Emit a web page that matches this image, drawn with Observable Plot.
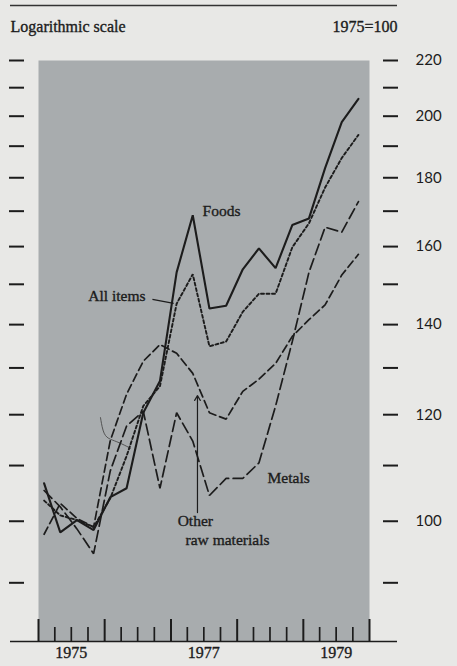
<!DOCTYPE html>
<html><head><meta charset="utf-8">
<script src="https://cdn.jsdelivr.net/npm/d3@7"></script>
<script src="https://cdn.jsdelivr.net/npm/@observablehq/plot@0.6"></script>
<style>
html,body{margin:0;padding:0;background:#e8e8e6;}
#chart{width:457px;height:666px;}
</style></head><body><div id="chart"></div>
<script>
// Quarterly index values, 1975 = 100 (logarithmic scale)
const quarters = ["1975Q1","1975Q2","1975Q3","1975Q4","1976Q1","1976Q2","1976Q3","1976Q4",
  "1977Q1","1977Q2","1977Q3","1977Q4","1978Q1","1978Q2","1978Q3","1978Q4",
  "1979Q1","1979Q2","1979Q3","1979Q4"];
const foods    = [106.7, 98.1,100.2, 98.5,104.2,105.8,120.4,127.1,153.1,168.8,143.9,144.6,153.9,159.5,154.2,166.0,167.9,183.0,198.0,206.0];
const allItems = [103.6,101.0,100.2, 99.0,104.0,111.8,121.8,126.0,145.1,152.6,134.9,136.0,143.1,147.6,147.6,159.8,166.5,177.0,186.2,193.7];
const otherRaw = [ 97.8,103.1,100.5, 99.0,114.8,124.3,131.5,135.3,133.3,128.8,120.4,119.1,124.9,127.5,131.0,137.2,141.2,144.8,152.4,157.9];
const metals   = [105.4,102.5, 98.7, 94.6,109.0,117.7,120.7,105.8,120.4,114.7,104.5,107.6,107.6,110.5,121.8,136.0,153.1,165.4,164.0,172.8];

const yTicks = [90,100,110,120,130,140,150,160,170,180,190,200,210,220];
const yLabels = [100,120,140,160,180,200,220];
const tickYears = [1975,1976,1977,1978,1979,1980];
const yearLabels = [1975,1977,1979];

// annotation anchors in data space (fractional year, index value)
const startLabels = ["Foods","Metals","Other","raw materials"];
const startYears  = [1977.477,1978.459,1977.10,1977.22];
const startValues = [169.9,107.6,100.0,96.9];
const endLabels   = ["All items"];
const endYears    = [1976.616];
const endValues   = [147.0];
const leaderAll   = [[1976.72,146.2],[1977.04,145.2]];
const arrowOther  = [[1977.40,101.5],[1977.40,124.0]];
const penMarkYears  = [1975.937,1975.982,1976.088,1976.208,1976.390];
const penMarkValues = [119.4,115.8,115.0,114.5,113.3];

function fy(y){const yr=Math.floor(y);const s=Date.UTC(yr,0,1),e=Date.UTC(yr+1,0,1);return new Date(s+(y-yr)*(e-s));}
function qDate(q){const yr=+q.slice(0,4), n=+q.slice(5);return new Date(Date.UTC(yr,3*n-2,1));}

const seriesDefs = [
  {name:"Foods", values:foods, dash:null, w:2.1},
  {name:"All items", values:allItems, dash:"3,2.5", w:1.9},
  {name:"Other raw materials", values:otherRaw, dash:"8,4", w:1.7},
  {name:"Metals", values:metals, dash:"11,4.5", w:1.7}
];
const rows = seriesDefs.flatMap(s => quarters.map((q,i)=>({series:s.name, date:qDate(q), value:s.values[i]})));

const majorTicks = tickYears.map(y=>new Date(Date.UTC(y,0,1)));
const minorTicks = d3.utcMonth.every(3).range(new Date(Date.UTC(1975,0,1)), new Date(Date.UTC(1980,0,2))).filter(d=>d.getUTCMonth()!==0);

const serif = "'Liberation Serif','Times New Roman',serif";
const ink = "#1c1c1c";
const sLabels = startLabels.map((t,i)=>({text:t, date:fy(startYears[i]), value:startValues[i]}));
const eLabels = endLabels.map((t,i)=>({text:t, date:fy(endYears[i]), value:endValues[i]}));
const pen = penMarkYears.map((y,i)=>({date:fy(y), value:penMarkValues[i]}));
const heavy = {stroke:ink, strokeWidth:0.35, fill:ink};

const chart = Plot.plot({
  width:457, height:666,
  marginLeft:38, marginRight:88, marginTop:60, marginBottom:25,
  x:{type:"utc", domain:[new Date(Date.UTC(1975,0,1)), new Date(Date.UTC(1980,0,1))], axis:null},
  y:{type:"log", domain:[81.4,220], axis:null},
  style:{background:"#e8e8e6", fontFamily:serif},
  marks:[
    Plot.frame({fill:"#a8acae", stroke:"none"}),
    Plot.line(pen, {x:"date", y:"value", stroke:"#4a4a4a", strokeWidth:0.9, curve:"basis"}),
    ...seriesDefs.map(s => Plot.line(rows.filter(r=>r.series===s.name), {x:"date", y:"value", stroke:ink, strokeWidth:s.w, strokeDasharray:s.dash, strokeLinejoin:"miter"})),
    Plot.ruleX(majorTicks, {insetTop:559, stroke:ink, strokeWidth:2}),
    Plot.ruleX(minorTicks, {insetTop:567, stroke:ink, strokeWidth:1.7}),
    Plot.ruleY([81.4], {insetLeft:-28, insetRight:-28, stroke:ink, strokeWidth:1.6}),
    Plot.ruleY([220], {dy:-55, insetLeft:-28, insetRight:-28, stroke:"#333", strokeWidth:1.5}),
    Plot.axisY(yTicks, {anchor:"left", label:null, dx:-14, tickSize:15, tickFormat:()=>"", stroke:ink, strokeWidth:2}),
    Plot.axisY(yTicks, {anchor:"right", label:null, dx:13, tickSize:15, tickPadding:18, tickFormat:d=>yLabels.includes(d)?String(d):"", stroke:ink, strokeWidth:2, fontSize:15, fontFamily:"Lato, sans-serif", fill:ink}),
    Plot.text(yearLabels, {x:d=>new Date(Date.UTC(d,6,1)), text:d=>String(d), frameAnchor:"bottom", dy:16, fontSize:16, fontFamily:serif, ...heavy}),
    Plot.text(["Logarithmic scale"], {frameAnchor:"top-left", dx:-28, dy:-40, textAnchor:"start", fontSize:16, fontFamily:serif, ...heavy}),
    Plot.text(["1975=100"], {frameAnchor:"top-right", dx:28, dy:-40, textAnchor:"end", fontSize:16, fontFamily:serif, ...heavy}),
    Plot.text(sLabels, {x:"date", y:"value", text:"text", textAnchor:"start", fontSize:15.5, fontFamily:serif, ...heavy}),
    Plot.text(eLabels, {x:"date", y:"value", text:"text", textAnchor:"end", fontSize:15.5, fontFamily:serif, ...heavy}),
    Plot.link([leaderAll], {x1:d=>fy(d[0][0]), y1:d=>d[0][1], x2:d=>fy(d[1][0]), y2:d=>d[1][1], stroke:ink, strokeWidth:1.2}),
    Plot.arrow([arrowOther], {x1:d=>fy(d[0][0]), y1:d=>d[0][1], x2:d=>fy(d[1][0]), y2:d=>d[1][1], stroke:ink, strokeWidth:1.2, headLength:7})
  ]
});
document.getElementById("chart").appendChild(chart);
</script></body></html>
